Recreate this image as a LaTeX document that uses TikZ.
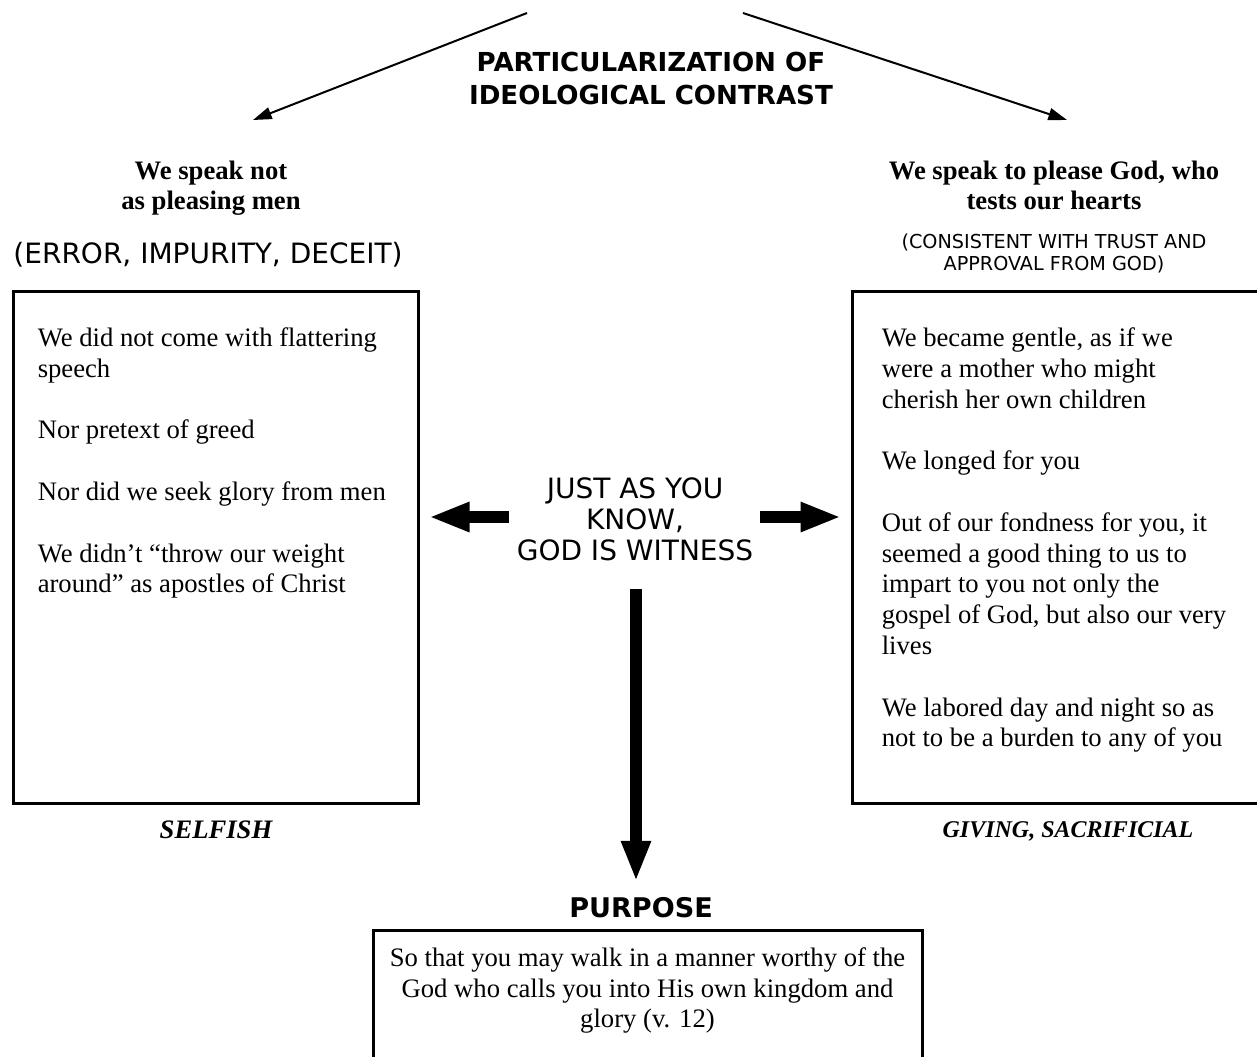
\documentclass[tikz,border=0pt]{standalone}
\usepackage{fontspec}
\setmainfont{Liberation Serif}
\newfontfamily\verdana{DejaVu Sans}
\usetikzlibrary{arrows.meta}

\tikzset{
  box/.style={draw,line width=2.25pt,inner sep=0pt},
  boxtext/.style={anchor=north west,inner sep=0pt,align=left,font=\fontsize{20}{23.1}\selectfont},
  heading/.style={inner sep=0pt,align=center,font=\fontsize{20}{22.5}\selectfont\bfseries},
  tag/.style={inner sep=0pt,align=center,font=\fontsize{20}{23}\selectfont\bfseries\itshape},
  caps/.style={inner sep=0pt,align=center,font=\verdana\fontsize{21}{23.25}\selectfont},
  blockarrow/.style={line width=8.5pt,-{Triangle[length=30.5pt,width=20.5pt]}},
  thinarrow/.style={line width=1.5pt,->}
}

\begin{document}
\begin{tikzpicture}[x=0.75pt,y=-0.75pt,>={Triangle[length=14pt,width=9pt]}]
  \useasboundingbox (0,0) rectangle (1257,1057);
  % Titel
  \node[inner sep=0pt,align=center,font=\verdana\fontsize{19.6}{24.75}\selectfont\bfseries] (title) at (651,78)
    {PARTICULARIZATION OF\\IDEOLOGICAL CONTRAST};
  \coordinate (topL) at (527,13);
  \coordinate (topR) at (743,13);
  \coordinate (headL) at (253,120);
  \coordinate (headR) at (1067,120);
  \draw[thinarrow] (topL) -- (headL);
  \draw[thinarrow] (topR) -- (headR);
  % linke Seite
  \node[heading] (menhead) at (211,188) {We speak not\\as pleasing men};
  \node[caps] (error) at (208,255) {(ERROR, IMPURITY, DECEIT)};
  \node[box,minimum width=303.75pt,minimum height=384pt] (leftbox) at (215.5,547) {};
  \node[boxtext] (lefttext) at ([shift={(26,38)}]leftbox.north west)
    {We did not come with flattering\\speech\\[23.1pt]
     Nor pretext of greed\\[23.1pt]
     Nor did we seek glory from men\\[23.1pt]
     We didn’t “throw our weight\\around” as apostles of Christ};
  \node[tag] (selfish) at (216,830) {SELFISH};
  % rechte Seite
  \node[heading] (godhead) at (1054,185) {We speak to please God, who\\tests our hearts};
  \node[inner sep=0pt,align=center,font=\verdana\fontsize{14.4}{16.5}\selectfont] (trust) at (1054,253)
    {(CONSISTENT WITH TRUST AND\\APPROVAL FROM GOD)};
  \node[box,minimum width=321pt,minimum height=384pt] (rightbox) at (1066,547) {};
  \node[boxtext] (righttext) at ([shift={(31,38)}]rightbox.north west)
    {We became gentle, as if we\\were a mother who might\\cherish her own children\\[23.1pt]
     We longed for you\\[23.1pt]
     Out of our fondness for you, it\\seemed a good thing to us to\\impart to you not only the\\gospel of God, but also our very\\lives\\[23.1pt]
     We labored day and night so as\\not to be a burden to any of you};
  \node[tag,font=\fontsize{18}{21}\selectfont\bfseries\itshape] (giving) at (1068,831) {GIVING, SACRIFICIAL};
  % Mitte
  \node[caps] (witness) at (635,519) {JUST AS YOU\\KNOW,\\GOD IS WITNESS};
  \draw[blockarrow,shorten <=6pt,shorten >=7pt] ([yshift=1.5pt]witness.west) -- ([yshift=1.5pt]witness.west -| leftbox.east);
  \draw[blockarrow,shorten <=5.25pt,shorten >=7pt] ([yshift=1.5pt]witness.east) -- ([yshift=1.5pt]witness.east -| rightbox.west);
  % Zweck
  \node[inner sep=0pt,font=\verdana\fontsize{20.3}{24.75}\selectfont\bfseries] (purpose) at (641,908) {PURPOSE};
  \draw[blockarrow,shorten <=21pt,shorten >=12pt] (witness.south -| 636,0) -- (purpose.north -| 636,0);
  \node[box,minimum width=411.75pt,minimum height=120pt] (purposebox) at (647.5,1010) {};
  \node[inner sep=0pt,align=center,anchor=north,font=\fontsize{20}{22.9}\selectfont] (purposetext)
    at ([yshift=-14.25pt]purposebox.north)
    {So that you may walk in a manner worthy of the\\God who calls you into His own kingdom and\\glory (v. 12)};
\end{tikzpicture}
\end{document}
